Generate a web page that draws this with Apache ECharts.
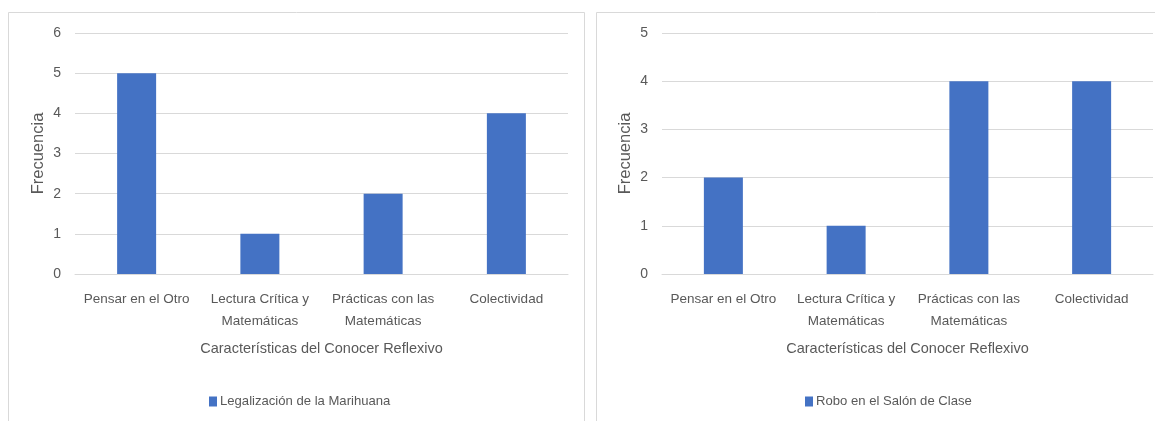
<!DOCTYPE html>
<html>
<head>
<meta charset="utf-8">
<script src="https://cdn.jsdelivr.net/npm/echarts@6/dist/echarts.min.js"></script>
<style>
html,body{margin:0;padding:0;background:#fff;}
#c{width:1155px;height:421px;}
</style>
</head>
<body>
<div id="c"></div>
<script>
const categories = ['Pensar en el Otro', 'Lectura Crítica y\nMatemáticas', 'Prácticas con las\nMatemáticas', 'Colectividad'];
const seriesLeftName = 'Legalización de la Marihuana';
const seriesLeft = [5, 1, 2, 4];
const seriesRightName = 'Robo en el Salón de Clase';
const seriesRight = [2, 1, 4, 4];
const xTitle = 'Características del Conocer Reflexivo';
const yTitle = 'Frecuencia';
const leftMax = 6;
const rightMax = 5;

const FONT = '"Liberation Sans", Arial, sans-serif';
const TXT = '#595959';
const BAR = '#4472C4';

function xAxis(gi) {
  return {
    type: 'category', gridIndex: gi, data: categories,
    axisLine: {show: true, lineStyle: {color: '#d9d9d9'}},
    axisTick: {show: false},
    axisLabel: {color: TXT, fontFamily: FONT, fontSize: 13.5, lineHeight: 22, margin: 14, interval: 0},
    name: xTitle, nameLocation: 'middle', nameGap: 67,
    nameTextStyle: {color: TXT, fontFamily: FONT, fontSize: 14.5}
  };
}
function yAxis(gi, max) {
  return {
    type: 'value', gridIndex: gi, min: 0, max: max, interval: 1,
    axisLine: {show: false}, axisTick: {show: false},
    axisLabel: {color: TXT, fontFamily: FONT, fontSize: 14, margin: 14},
    splitLine: {lineStyle: {color: '#d9d9d9', width: 1}},
    name: yTitle, nameLocation: 'middle', nameGap: 28,
    nameTextStyle: {color: TXT, fontFamily: FONT, fontSize: 16.5}
  };
}

const chart = echarts.init(document.getElementById('c'), null, {renderer: 'canvas'});
chart.setOption({
  animation: false,
  backgroundColor: '#fff',
  graphic: [
    {type: 'rect', shape: {x: 8.5, y: 12.5, width: 576, height: 420}, style: {fill: 'none', stroke: '#d9d9d9', lineWidth: 1}, silent: true},
    {type: 'rect', shape: {x: 596.5, y: 12.5, width: 600, height: 420}, style: {fill: 'none', stroke: '#d9d9d9', lineWidth: 1}, silent: true}
  ],
  grid: [
    {left: 75, width: 493, top: 33, bottom: 147},
    {left: 662, width: 491, top: 33, bottom: 147}
  ],
  xAxis: [xAxis(0), xAxis(1)],
  yAxis: [yAxis(0, leftMax), yAxis(1, rightMax)],
  legend: [
    {data: [seriesLeftName], left: 204, top: 390, itemWidth: 8, itemHeight: 10,
     icon: 'rect', textStyle: {color: TXT, fontFamily: FONT, fontSize: 13.1, padding: [0,0,0,-2]}},
    {data: [seriesRightName], left: 800, top: 390, itemWidth: 8, itemHeight: 10,
     icon: 'rect', textStyle: {color: TXT, fontFamily: FONT, fontSize: 13.1, padding: [0,0,0,-2]}}
  ],
  series: [
    {name: seriesLeftName, type: 'bar', xAxisIndex: 0, yAxisIndex: 0, data: seriesLeft, barWidth: 39, itemStyle: {color: BAR}},
    {name: seriesRightName, type: 'bar', xAxisIndex: 1, yAxisIndex: 1, data: seriesRight, barWidth: 39, itemStyle: {color: BAR}}
  ]
});
</script>
</body>
</html>
